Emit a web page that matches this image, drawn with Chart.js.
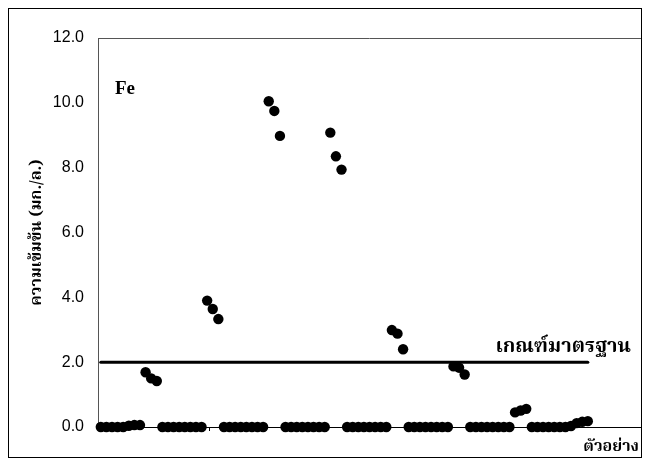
<!DOCTYPE html>
<html>
<head>
<meta charset="utf-8">
<script src="https://cdn.jsdelivr.net/npm/chart.js@4.4.1/dist/chart.umd.min.js"></script>
<style>
  html, body { margin: 0; padding: 0; background: #fff; }
  canvas { display: block; }
</style>
</head>
<body>
<canvas id="chart" width="652" height="468"></canvas>
<script>
// Fe concentration (mg/L) of each sample, eight sampling stations of 11 samples
const station1 = [0, 0, 0, 0, 0, 0.04, 0.06, 0.06, 1.69, 1.50, 1.42];
const station2 = [0, 0, 0, 0, 0, 0, 0, 0, 3.90, 3.64, 3.33];
const station3 = [0, 0, 0, 0, 0, 0, 0, 0, 10.05, 9.75, 8.98];
const station4 = [0, 0, 0, 0, 0, 0, 0, 0, 9.08, 8.35, 7.94];
const station5 = [0, 0, 0, 0, 0, 0, 0, 0, 2.99, 2.88, 2.40];
const station6 = [0, 0, 0, 0, 0, 0, 0, 0, 1.87, 1.83, 1.62];
const station7 = [0, 0, 0, 0, 0, 0, 0, 0, 0.45, 0.51, 0.56];
const station8 = [0, 0, 0, 0, 0, 0, 0, 0.03, 0.12, 0.16, 0.18];

const feValues = [].concat(station1, station2, station3, station4,
                           station5, station6, station7, station8);

// Drinking water standard for Fe (mg/L)
const standardLimit = 2.0;

// Value axis ticks
const yTickValues = [0, 2, 4, 6, 8, 10, 12];

// Texts
const elementLabel = 'Fe';
const standardLabel = 'เกณฑ์มาตรฐาน';
const yTitle = 'ความเข้มข้น (มก./ล.)';
const xTitle = 'ตัวอย่าง';

const THAI_FONT = "'Noto Serif Thai', 'Noto Sans Thai', 'Garuda', 'Loma', 'Norasi', serif";

const samplePoints = feValues.map((v, i) => ({ x: i + 0.5, y: v }));
const standardPoints = [
  { x: 0.5, y: standardLimit },
  { x: feValues.length - 0.5, y: standardLimit }
];

// Frame, plot top edge and free-standing labels
const decorations = {
  id: 'decorations',
  beforeDraw(chart) {
    const ctx = chart.ctx;
    ctx.save();
    ctx.fillStyle = '#fff';
    ctx.fillRect(0, 0, chart.width, chart.height);
    ctx.restore();
  },
  afterDraw(chart) {
    const ctx = chart.ctx;
    const area = chart.chartArea;
    const y = chart.scales.y;
    ctx.save();
    // outer frame
    ctx.strokeStyle = '#000';
    ctx.lineWidth = 1;
    ctx.strokeRect(8.5, 8.5, chart.width - 19, chart.height - 19);
    // top edge of plot area
    ctx.strokeStyle = '#555';
    ctx.beginPath();
    ctx.moveTo(area.left, area.top + 0.5);
    ctx.lineTo(area.right, area.top + 0.5);
    ctx.stroke();

    // element name
    ctx.fillStyle = '#000';
    ctx.font = "bold 19px 'Liberation Serif', 'Times New Roman', serif";
    ctx.textBaseline = 'alphabetic';
    ctx.textAlign = 'left';
    ctx.fillText(elementLabel, area.left + 17, 94);

    // standard line label
    ctx.font = 'bold 20px ' + THAI_FONT;
    ctx.textAlign = 'right';
    ctx.fillText(standardLabel, 631, y.getPixelForValue(standardLimit) - 10);

    // sample axis title
    ctx.font = 'bold 16px ' + THAI_FONT;
    ctx.textAlign = 'right';
    ctx.fillText(xTitle, 639, 451);
    ctx.restore();
  }
};

new Chart(document.getElementById('chart'), {
  type: 'scatter',
  data: {
    datasets: [
      {
        label: 'Fe',
        data: samplePoints,
        pointRadius: 5.2,
        pointHoverRadius: 5.2,
        backgroundColor: '#000',
        borderColor: '#000',
        borderWidth: 0,
        showLine: false,
        clip: false,
        order: 1
      },
      {
        type: 'line',
        label: standardLabel,
        data: standardPoints,
        borderColor: '#000',
        borderWidth: 3,
        borderCapStyle: 'round',
        pointRadius: 0,
        fill: false,
        clip: false,
        order: 2
      }
    ]
  },
  options: {
    responsive: false,
    animation: false,
    events: [],
    layout: { padding: { left: 29, top: 38, right: 11, bottom: 0 } },
    plugins: {
      legend: { display: false },
      tooltip: { enabled: false }
    },
    scales: {
      x: {
        type: 'linear',
        min: 0,
        max: 97,
        afterBuildTicks(scale) {
          scale.ticks = [20, 40, 60, 80].map(v => ({ value: v }));
        },
        afterFit(scale) {
          scale.height = 41;
          scale.paddingLeft = 0;
          scale.paddingRight = 0;
        },
        ticks: { display: false },
        grid: {
          display: true,
          drawOnChartArea: false,
          drawTicks: true,
          tickLength: 4,
          color: '#000',
          lineWidth: 1
        },
        border: { display: true, color: '#000', width: 1 }
      },
      y: {
        min: 0,
        max: 12,
        afterBuildTicks(scale) {
          scale.ticks = yTickValues.map(v => ({ value: v }));
        },
        afterFit(scale) {
          scale.width = 69;
          scale.paddingTop = 0;
          scale.paddingBottom = 0;
        },
        ticks: {
          padding: 14,
          color: '#000',
          font: { family: "'Liberation Sans', Arial, sans-serif", size: 16 },
          callback: v => v.toFixed(1)
        },
        grid: { display: false, drawTicks: false },
        border: { display: true, color: '#555', width: 1 },
        title: {
          display: true,
          text: yTitle,
          color: '#000',
          font: { family: THAI_FONT, size: 16, weight: 'bold' },
          padding: { top: 0, bottom: 0 }
        }
      }
    }
  },
  plugins: [decorations]
});
</script>
</body>
</html>
